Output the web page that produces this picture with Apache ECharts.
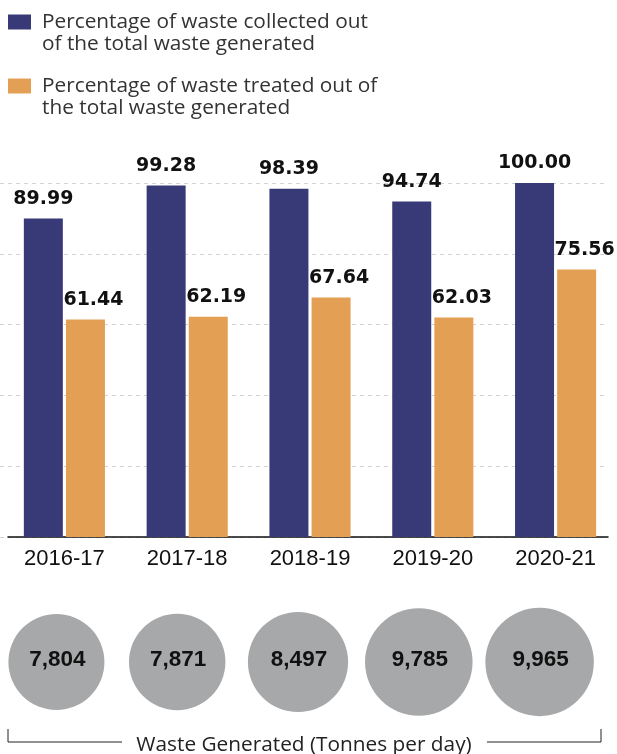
<!DOCTYPE html>
<html>
<head>
<meta charset="utf-8">
<title>Waste collected and treated</title>
<script src="https://cdn.jsdelivr.net/npm/echarts@6/dist/echarts.min.js"></script>
<style>
  html, body { margin: 0; padding: 0; background: #fff; }
  #chart { width: 617px; height: 754px; }
</style>
</head>
<body>
<div id="chart"></div>
<script>
// data
const years = ["2016-17", "2017-18", "2018-19", "2019-20", "2020-21"];
const collected = [89.99, 99.28, 98.39, 94.74, 100.0];
const treated = [61.44, 62.19, 67.64, 62.03, 75.56];
const wasteGenerated = [7804, 7871, 8497, 9785, 9965];
const seriesNames = [
  "Percentage of waste collected out\nof the total waste generated",
  "Percentage of waste treated out of\nthe total waste generated",
];
const yTicks = [0, 20, 40, 60, 80, 100];

const chart = echarts.init(document.getElementById("chart"));

const barLabel = {
  show: true,
  position: "top",
  distance: 10,
  fontFamily: "DejaVu Sans",
  fontWeight: "bold",
  fontSize: 19,
  color: "#111",
  formatter: (p) => p.value.toFixed(2),
};

const option = {
  animation: false,
  legend: {
    orient: "vertical",
    left: 8,
    top: -11,
    padding: 0,
    itemGap: -2,
    itemWidth: 23,
    itemHeight: 15,
    icon: "rect",
    selectedMode: false,
    // empty first line keeps the square level with the first text line
    formatter: (name) => "\n" + name,
    textStyle: {
      fontFamily: "Open Sans",
      fontSize: 20.8,
      color: "#333",
      lineHeight: 22,
      padding: [0, 0, 0, 6],
    },
    data: seriesNames,
  },
  grid: [
    // bars
    { left: 3, right: 0, top: 183, bottom: 217 },
    // dashed grid lines
    { left: 0, right: 9, top: 183, bottom: 217 },
    // base line
    { left: 8, right: 9, top: 183, bottom: 217 },
    // circles
    { left: 0, width: 600, top: 612, height: 100 },
  ],
  xAxis: [
    {
      type: "category",
      gridIndex: 0,
      data: years,
      axisLine: { show: false },
      axisTick: { show: false },
      axisLabel: {
        margin: 11,
        fontFamily: "Liberation Sans",
        fontSize: 22,
        color: "#111",
      },
    },
    {
      type: "category",
      gridIndex: 1,
      data: years,
      axisLine: { show: false },
      axisTick: { show: false },
      axisLabel: { show: false },
    },
    {
      type: "category",
      gridIndex: 2,
      data: years,
      axisLine: { show: true, lineStyle: { color: "#111", width: 1.5 } },
      axisTick: { show: false },
      axisLabel: { show: false },
    },
    {
      // circles sit at the year index
      type: "value",
      gridIndex: 3,
      min: -0.467,
      max: 4.5,
      show: false,
    },
  ],
  yAxis: [
    { type: "value", gridIndex: 0, min: yTicks[0], max: yTicks[yTicks.length - 1], interval: 20, show: false },
    {
      type: "value",
      gridIndex: 1,
      min: yTicks[0],
      max: yTicks[yTicks.length - 1],
      interval: 20,
      axisLine: { show: false },
      axisTick: { show: false },
      axisLabel: { show: false },
      splitLine: {
        show: true,
        lineStyle: { color: "#d2d2d2", width: 1, type: [4, 4] },
      },
    },
    { type: "value", gridIndex: 2, min: 0, max: 100, show: false },
    { type: "value", gridIndex: 3, min: -1, max: 1, show: false },
  ],
  series: [
    {
      name: seriesNames[0],
      type: "bar",
      xAxisIndex: 0,
      yAxisIndex: 0,
      data: collected,
      barWidth: 39,
      barGap: "8%",
      itemStyle: { color: "#383a78" },
      label: barLabel,
    },
    {
      name: seriesNames[1],
      type: "bar",
      xAxisIndex: 0,
      yAxisIndex: 0,
      data: treated,
      barWidth: 39,
      barGap: "8%",
      itemStyle: { color: "#e3a055" },
      label: Object.assign({}, barLabel, { offset: [8, 0] }),
    },
    {
      type: "scatter",
      xAxisIndex: 3,
      yAxisIndex: 3,
      data: years.map((y, i) => [i, 0, wasteGenerated[i]]),
      symbolSize: (val) => 1.087 * Math.sqrt(val[2]),
      itemStyle: { color: "#a7a8aa", opacity: 1 },
      label: {
        show: true,
        position: "inside",
        offset: [1, -2],
        fontFamily: "Liberation Sans",
        fontWeight: "bold",
        fontSize: 22.5,
        color: "#111",
        formatter: (p) => p.value[2].toLocaleString("en-US"),
      },
      silent: true,
    },
  ],
  graphic: [
    {
      type: "polyline",
      shape: { points: [[8, 729], [8, 742], [122, 742]] },
      style: { stroke: "#222", lineWidth: 1, fill: null },
    },
    {
      type: "polyline",
      shape: { points: [[487, 742], [601, 742], [601, 729]] },
      style: { stroke: "#222", lineWidth: 1, fill: null },
    },
    {
      type: "text",
      x: 304,
      y: 745,
      style: {
        text: "Waste Generated (Tonnes per day)",
        fontFamily: "Open Sans",
        fontSize: 20.8,
        fill: "#222",
        align: "center",
        verticalAlign: "middle",
      },
    },
  ],
};

chart.setOption(option);
</script>
</body>
</html>
